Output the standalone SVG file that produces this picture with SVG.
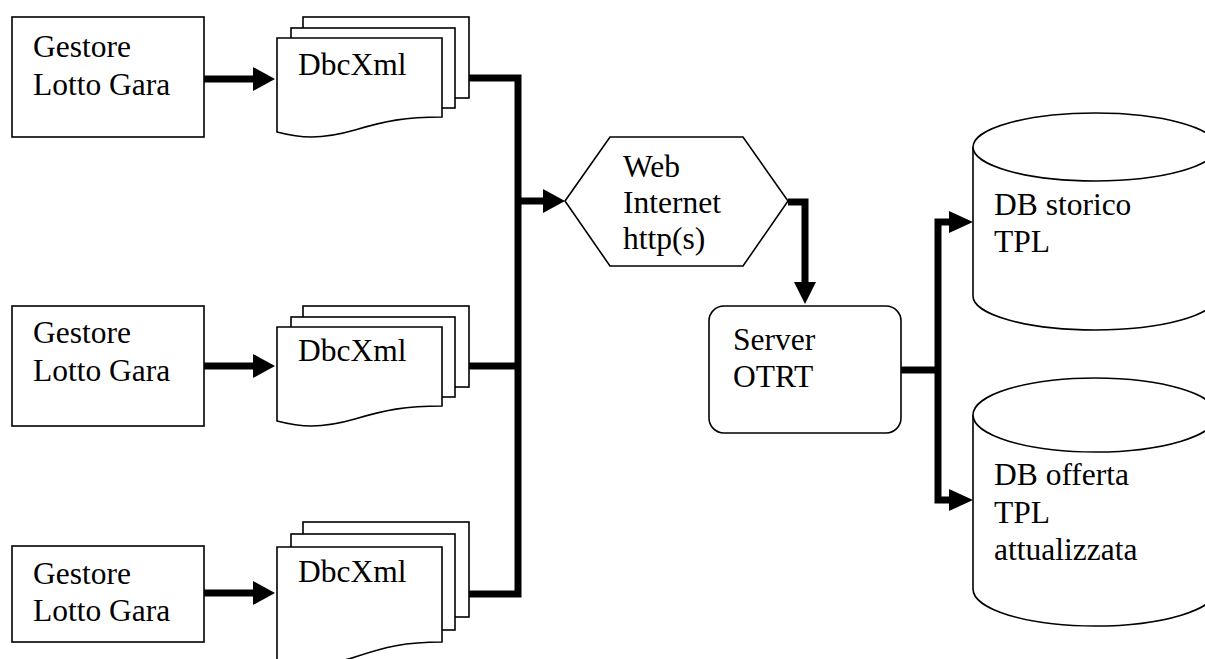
<svg xmlns="http://www.w3.org/2000/svg" width="1205" height="659" viewBox="0 0 1205 659">
  <style>
    .shape { fill: #ffffff; stroke: #000000; stroke-width: 1.6; }
    .lbl { font-size: 31.5px; fill: #000000; }
    .conn { fill: none; stroke: #000000; stroke-width: 7; stroke-linejoin: miter; stroke-linecap: butt; }
    .head { fill: #000000; stroke: none; }
  </style>
  <defs>
    <g id="docstack">
      <rect class="shape" x="303" y="17" width="166" height="81"/>
      <rect class="shape" x="291" y="28" width="164" height="80"/>
      <path class="shape" d="M277,38 H442 V117 C405,117 385,121 355,130 C320,140 300,138 277,132 Z"/>
    </g>
  </defs>
  <rect width="1205" height="659" fill="#ffffff"/>

  <g id="connectors">
    <path class="conn" d="M204,79 H254"/>
    <polygon class="head" points="253,67 275,79 253,91"/>
    <path class="conn" d="M204,366 H254"/>
    <polygon class="head" points="253,354 275,366 253,378"/>
    <path class="conn" d="M204,593 H254"/>
    <polygon class="head" points="253,581 275,593 253,605"/>
    <path class="conn" d="M469,78 H518 V594 H469"/>
    <path class="conn" d="M469,366 H518"/>
    <path class="conn" d="M518,201 H544"/>
    <polygon class="head" points="543,189 565,201 543,213"/>
    <path class="conn" d="M788,202 H805 V283"/>
    <polygon class="head" points="794,282 816,282 805,304"/>
    <path class="conn" d="M901,370 H938"/>
    <path class="conn" d="M950,222 H938 V500 H950"/>
    <polygon class="head" points="949,211 973,222 949,233"/>
    <polygon class="head" points="949,489 973,500 949,511"/>
  </g>

  <g font-family="'Liberation Serif', 'DejaVu Serif', serif">
  <g id="gestore1">
    <rect class="shape" x="12" y="17" width="192" height="120"/>
    <text class="lbl" x="33" y="57">Gestore</text>
    <text class="lbl" x="33" y="95">Lotto Gara</text>
  </g>
  <g id="gestore2">
    <rect class="shape" x="12" y="306" width="192" height="120"/>
    <text class="lbl" x="33" y="343">Gestore</text>
    <text class="lbl" x="33" y="381">Lotto Gara</text>
  </g>
  <g id="gestore3">
    <rect class="shape" x="12" y="546" width="192" height="96"/>
    <text class="lbl" x="33" y="584">Gestore</text>
    <text class="lbl" x="33" y="621">Lotto Gara</text>
  </g>

  <g id="doc1">
    <use href="#docstack"/>
    <text class="lbl" x="298" y="75">DbcXml</text>
  </g>
  <g id="doc2">
    <use href="#docstack" transform="translate(0,289)"/>
    <text class="lbl" x="298" y="361">DbcXml</text>
  </g>
  <g id="doc3">
    <rect class="shape" x="303" y="522" width="166" height="95"/>
    <rect class="shape" x="291" y="534" width="164" height="96"/>
    <path class="shape" d="M277,547 H442 V642 C405,642 385,647 355,657 C320,668 300,666 277,660 Z"/>
    <text class="lbl" x="298" y="582">DbcXml</text>
  </g>

  <g id="web">
    <polygon class="shape" points="565,201 610,137 743,137 788,201 743,266 610,266"/>
    <text class="lbl" x="623" y="177">Web</text>
    <text class="lbl" x="623" y="213">Internet</text>
    <text class="lbl" x="623" y="249">http(s)</text>
  </g>

  <g id="server">
    <rect class="shape" x="709" y="306" width="192" height="127" rx="15" ry="15"/>
    <text class="lbl" x="733" y="350">Server</text>
    <text class="lbl" x="733" y="387">OTRT</text>
  </g>

  <g id="db1">
    <path class="shape" d="M973,147 A122,34 0 0 1 1217,147 V296 A122,34 0 0 1 973,296 Z"/>
    <path class="shape" fill="none" d="M973,147 A122,34 0 0 0 1217,147"/>
    <text class="lbl" x="994" y="215">DB storico</text>
    <text class="lbl" x="994" y="252">TPL</text>
  </g>

  <g id="db2">
    <path class="shape" d="M973,415 A122,37 0 0 1 1217,415 V589 A122,37 0 0 1 973,589 Z"/>
    <path class="shape" fill="none" d="M973,415 A122,37 0 0 0 1217,415"/>
    <text class="lbl" x="994" y="485">DB offerta</text>
    <text class="lbl" x="994" y="523">TPL</text>
    <text class="lbl" x="994" y="560">attualizzata</text>
  </g>
  </g>
</svg>
